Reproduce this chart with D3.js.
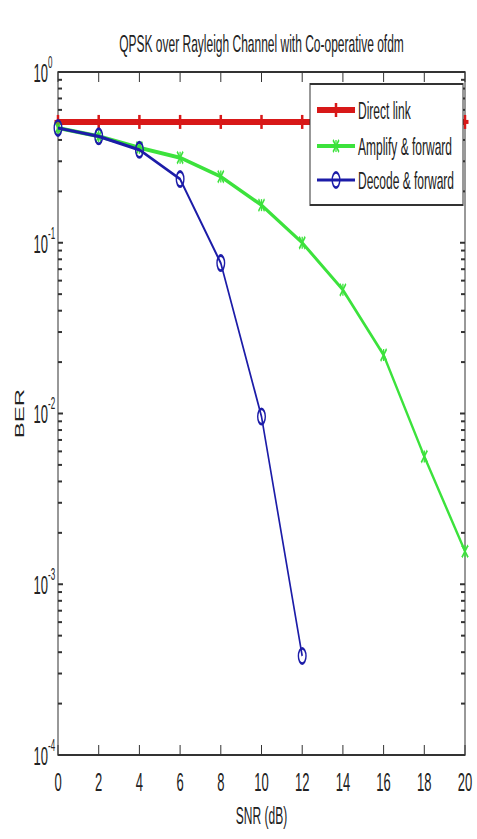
<!DOCTYPE html>
<html>
<head>
<meta charset="utf-8">
<script src="https://cdn.jsdelivr.net/npm/d3@7"></script>
<style>
  body { margin: 0; background: #fff; }
  text { font-family: "Liberation Sans", Arial, sans-serif; fill: #222; }
</style>
</head>
<body>
<div id="chart"></div>
<script>
// DATA
const snr = [0, 2, 4, 6, 8, 10, 12, 14, 16, 18, 20];
const directLink = [0.51, 0.51, 0.51, 0.51, 0.51, 0.51, 0.51, 0.51, 0.51, 0.51, 0.51];
const amplifyForward = [0.47, 0.42, 0.36, 0.315, 0.244, 0.166, 0.1, 0.053, 0.022, 0.0056, 0.00156];
const decodeSnr = [0, 2, 4, 6, 8, 10, 12];
const decodeForward = [0.47, 0.42, 0.35, 0.236, 0.076, 0.0096, 0.00038];
const xTicks = [0, 2, 4, 6, 8, 10, 12, 14, 16, 18, 20];
const yDecades = [0, -1, -2, -3, -4];
const seriesNames = ['Direct link', 'Amplify & forward', 'Decode & forward'];

document.addEventListener('DOMContentLoaded', function(){
  drawChart();
});

function drawChart() {
  const W = 477, H = 839;
  const sy = 2; // the whole figure is stretched vertically
  const svg = d3.select('#chart').append('svg')
    .attr('width', W).attr('height', H);
  const g = svg.append('g').attr('transform', 'scale(1,' + sy + ')');

  const left = 58, right = 465, top = 36, bottom = 377.5;
  const x = d3.scaleLinear().domain([0, 20]).range([left, right]);
  const y = d3.scaleLog().domain([1e-4, 1]).range([bottom, top]);
  const axisColor = '#333';

  // box
  g.append('rect').attr('x', left).attr('y', top)
    .attr('width', right - left).attr('height', bottom - top)
    .style('fill', 'none').style('stroke', axisColor).style('stroke-width', 1);

  // x ticks top + bottom, inward
  xTicks.forEach(function(t) {
    g.append('line').attr('x1', x(t)).attr('x2', x(t)).attr('y1', bottom).attr('y2', bottom - 5)
      .style('stroke', axisColor);
    g.append('line').attr('x1', x(t)).attr('x2', x(t)).attr('y1', top).attr('y2', top + 5)
      .style('stroke', axisColor);
    g.append('text').attr('x', x(t)).attr('y', bottom + 18)
      .attr('text-anchor', 'middle').style('font-size', '13px').text(t);
  });

  // y ticks (log, with minors) left + right
  yDecades.forEach(function(e) {
    const v = Math.pow(10, e);
    g.append('text').attr('x', left - 10).attr('y', y(v) + 5)
      .attr('text-anchor', 'end').style('font-size', '13px').text('10');
    g.append('text').attr('x', left - 10).attr('y', y(v) - 2)
      .style('font-size', '8px').text(e === 0 ? '0' : String(e));
    for (let k = 1; k <= 9; k++) {
      const tv = k * v;
      if (e === 0 && k > 1) continue;
      const len = k === 1 ? 5 : 4;
      g.append('line').attr('x1', left).attr('x2', left + len).attr('y1', y(tv)).attr('y2', y(tv))
        .style('stroke', axisColor);
      g.append('line').attr('x1', right).attr('x2', right - len).attr('y1', y(tv)).attr('y2', y(tv))
        .style('stroke', axisColor);
    }
  });

  // labels
  g.append('text').attr('x', (left + right) / 2).attr('y', 26)
    .attr('text-anchor', 'middle').style('font-size', '12px')
    .text('QPSK over Rayleigh Channel with Co-operative ofdm');
  g.append('text').attr('x', (left + right) / 2).attr('y', 412)
    .attr('text-anchor', 'middle').style('font-size', '12px').text('SNR (dB)');
  g.append('text').attr('transform', 'translate(24,' + ((top + bottom) / 2) + ') rotate(-90)')
    .attr('text-anchor', 'middle').style('font-size', '12px').text('BER');

  const colors = ['#d81818', '#3ce23c', '#1c1ca8'];
  const widths = [3, 2, 1.6];

  const line = d3.line().x(function(d) { return x(d[0]); }).y(function(d) { return y(d[1]); });

  function plus(sel, cx, cy, c) {
    sel.append('line').attr('x1', cx - 3.5).attr('x2', cx + 3.5).attr('y1', cy).attr('y2', cy)
      .style('stroke', c).style('stroke-width', 2);
    sel.append('line').attr('x1', cx).attr('x2', cx).attr('y1', cy - 3.5).attr('y2', cy + 3.5)
      .style('stroke', c).style('stroke-width', 2.5);
  }
  function star(sel, cx, cy, c) {
    [[-3, -3, 3, 3], [-3, 3, 3, -3], [0, -3, 0, 3]].forEach(function(p) {
      sel.append('line').attr('x1', cx + p[0]).attr('y1', cy + p[1]).attr('x2', cx + p[2]).attr('y2', cy + p[3])
        .style('stroke', c).style('stroke-width', 1.3);
    });
  }
  function circ(sel, cx, cy, c) {
    sel.append('circle').attr('cx', cx).attr('cy', cy).attr('r', 3.8)
      .style('fill', 'none').style('stroke', c).style('stroke-width', 1.4);
  }
  const markers = [plus, star, circ];

  const series = [
    d3.zip(snr, directLink),
    d3.zip(snr, amplifyForward),
    d3.zip(decodeSnr, decodeForward)
  ];

  // draw in order: direct, amplify, decode (decode on top)
  series.forEach(function(s, i) {
    const grp = g.append('g');
    grp.append('path').attr('d', line(s))
      .style('fill', 'none').style('stroke', colors[i]).style('stroke-width', widths[i]);
    s.forEach(function(d) { markers[i](grp, x(d[0]), y(d[1]), colors[i]); });
  });

  // legend
  const lg = g.append('g');
  lg.append('rect').attr('x', 310).attr('y', 42).attr('width', 153).attr('height', 60.5)
    .style('fill', '#fff').style('stroke', axisColor).style('stroke-width', 1);
  const rows = [55, 73, 90];
  seriesNames.forEach(function(n, i) {
    lg.append('line').attr('x1', 317).attr('x2', 355).attr('y1', rows[i]).attr('y2', rows[i])
      .style('stroke', colors[i]).style('stroke-width', widths[i]);
    markers[i](lg, 336, rows[i], colors[i]);
    lg.append('text').attr('x', 358).attr('y', rows[i] + 4.3)
      .style('font-size', '12px').text(n);
  });
}
</script>
</body>
</html>
